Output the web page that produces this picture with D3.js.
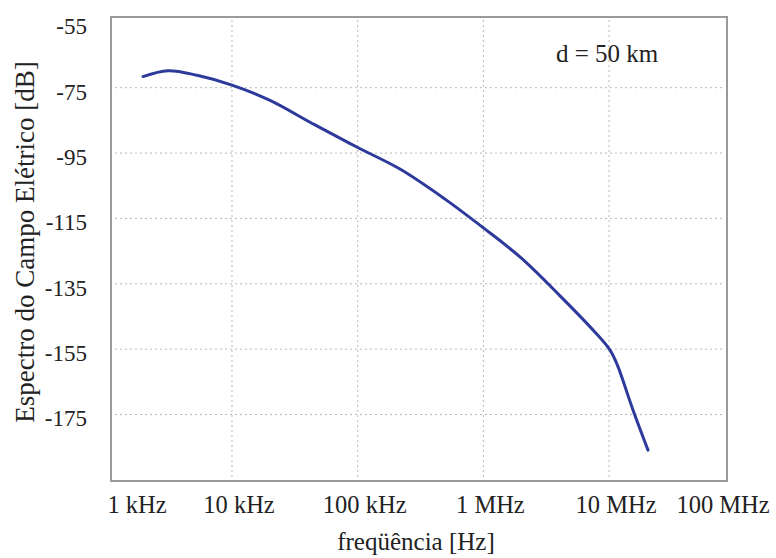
<!DOCTYPE html>
<html>
<head>
<meta charset="utf-8">
<script src="https://cdn.jsdelivr.net/npm/d3@7/dist/d3.min.js"></script>
<style>
  body { margin: 0; background: #fff; }
  svg text { font-family: "Liberation Serif", "Times New Roman", serif; fill: #222; }
</style>
</head>
<body>
<svg id="chart" width="776" height="558"></svg>
<script>
// Data
const freqHz = [1959, 3097, 5268, 10000, 20060, 45740, 100000, 217000, 494900, 1000000, 1955000, 4070000, 7720000, 10170000, 11560000, 15490000, 20400000];
const fieldDb = [-71.6, -69.8, -71.2, -74.2, -78.9, -86.4, -93.3, -99.9, -109.1, -117.9, -126.8, -138.7, -149.8, -155.3, -159.6, -173.6, -185.9];
const yTicks = [-55, -75, -95, -115, -135, -155, -175];
const yGrid = [-75, -95, -115, -135, -155, -175];
const xGrid = [1e4, 1e5, 1e6, 1e7];
const xTickValues = [1e3, 1e4, 1e5, 1e6, 1e7, 1e8];
const xTickLabels = ["1 kHz", "10 kHz", "100 kHz", "1 MHz", "10 MHz", "100 MHz"];
const annotation = "d = 50 km";
const xTitle = "freqüência [Hz]";
const yTitle = "Espectro do Campo Elétrico [dB]";

const L = 111, T = 17, R = 727, B = 481;
const svg = d3.select("#chart");

const x = d3.scaleLog().domain([1090, 8.67e7]).range([L, R]);
const y = d3.scaleLinear().domain([-195.35, -53.37]).range([B, T]);

// grid
const gridColor = "#b8b8b8";
svg.append("g").selectAll("line").data(yGrid).join("line")
  .attr("x1", L + 4).attr("x2", R - 4)
  .attr("y1", d => y(d)).attr("y2", d => y(d))
  .attr("stroke", gridColor).attr("stroke-width", 1)
  .attr("stroke-dasharray", "2,3");
svg.append("g").selectAll("line").data(xGrid).join("line")
  .attr("x1", d => x(d)).attr("x2", d => x(d))
  .attr("y1", T + 3).attr("y2", B - 4)
  .attr("stroke", gridColor).attr("stroke-width", 1)
  .attr("stroke-dasharray", "2,3");

// frame
svg.append("rect")
  .attr("x", L).attr("y", T).attr("width", R - L).attr("height", B - T)
  .attr("fill", "none").attr("stroke", "#9a9a9a").attr("stroke-width", 2);

// curve
const line = d3.line()
  .x((d, i) => x(freqHz[i]))
  .y(d => y(d))
  .curve(d3.curveCatmullRom.alpha(0.5));
svg.append("path")
  .attr("d", line(fieldDb))
  .attr("fill", "none")
  .attr("stroke", "#2d3a9c")
  .attr("stroke-width", 3)
  .attr("stroke-linecap", "round")
  .attr("stroke-linejoin", "round");

// y tick labels
svg.append("g").selectAll("text").data(yTicks).join("text")
  .attr("x", 87)
  .attr("y", d => y(d) + 12)
  .attr("text-anchor", "end")
  .attr("font-size", 23)
  .text(d => d);

// x tick labels
svg.append("g").selectAll("text").data(xTickValues).join("text")
  .attr("x", d => Math.min(Math.max(x(d) + 7, L + 26), R - 4))
  .attr("y", 513)
  .attr("text-anchor", "middle")
  .attr("font-size", 24.5)
  .text((d, i) => xTickLabels[i]);

// annotation
svg.append("text")
  .attr("x", x(1e7) - 2).attr("y", 62)
  .attr("text-anchor", "middle")
  .attr("font-size", 25)
  .text(annotation);

// axis titles
svg.append("text")
  .attr("x", (L + R) / 2 - 3).attr("y", 550)
  .attr("text-anchor", "middle")
  .attr("font-size", 25)
  .text(xTitle);
svg.append("text")
  .attr("transform", `translate(34, ${(T + B) / 2 - 7}) rotate(-90)`)
  .attr("text-anchor", "middle")
  .attr("font-size", 27)
  .text(yTitle);
</script>
</body>
</html>
